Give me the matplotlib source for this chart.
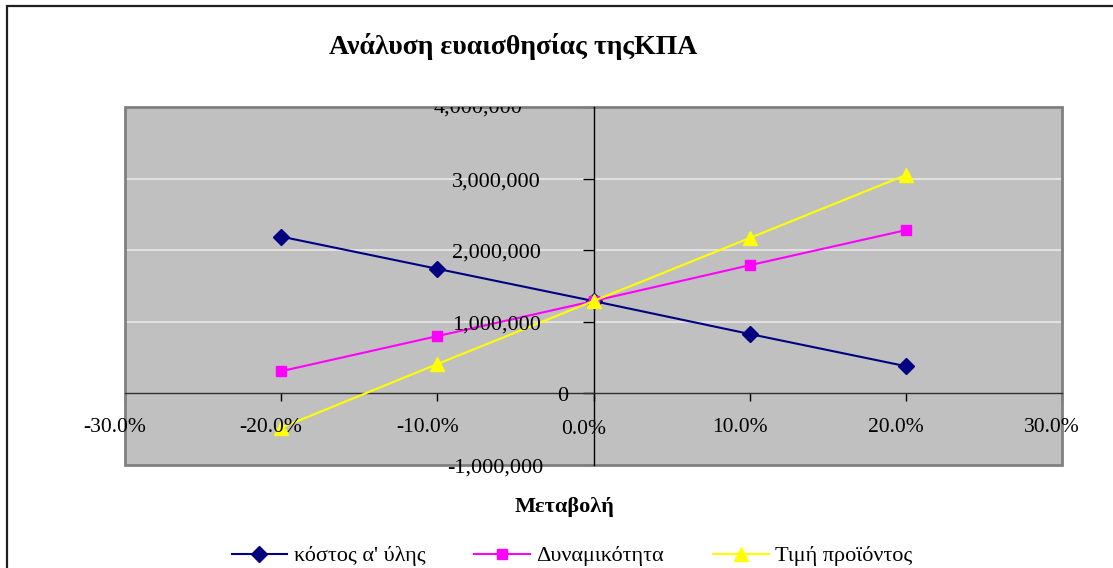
import matplotlib
matplotlib.use("Agg")
import matplotlib.pyplot as plt
from matplotlib.patches import Rectangle
from matplotlib.ticker import FixedLocator
from matplotlib.transforms import blended_transform_factory, offset_copy

changes = [-0.20, -0.10, 0.0, 0.10, 0.20]
cost_raw = [2190000, 1740000, 1290000, 830000, 380000]
capacity = [310000, 800000, 1290000, 1790000, 2280000]
price = [-480000, 410000, 1290000, 2170000, 3050000]
series_names = ["κόστος α' ύλης", "Δυναμικότητα", "Τιμή προϊόντος"]
x_ticks = [-0.30, -0.20, -0.10, 0.0, 0.10, 0.20, 0.30]
y_ticks = [-1000000, 0, 1000000, 2000000, 3000000, 4000000]

plt.rcParams['font.family'] = ['Liberation Serif', 'DejaVu Serif']

W, H = 1113, 568
fig = plt.figure(figsize=(W / 100, H / 100), dpi=100)
fig.patch.set_facecolor('white')

# outer chart border (top and left visible)
fig.patches.append(Rectangle((7 / W, -0.1), 1.2, (H - 6) / H + 0.1, transform=fig.transFigure,
                             fill=False, edgecolor='#202020', lw=1.6, zorder=0))

L, R, T, B = 125, 1062, 107, 465
ax = fig.add_axes([L / W, (H - B) / H, (R - L) / W, (B - T) / H])
ax.set_facecolor('#C0C0C0')
ax.set_xlim(-0.30, 0.30)
ax.set_ylim(-1000000, 4000000)

for y in [1000000, 2000000, 3000000]:
    ax.axhline(y, color='#E8E8E8', lw=1.2, zorder=1)

ax.plot(changes, cost_raw, color='#000080', marker='D', markersize=8, lw=1.5, label=series_names[0], zorder=3)
ax.plot(changes, capacity, color='#FF00FF', marker='s', markersize=7.5, lw=1.5, label=series_names[1], zorder=3)
ax.plot(changes, price, color='#FFFF00', marker='^', markersize=10, lw=1.5, label=series_names[2], zorder=3)

ax.spines['top'].set_visible(False)
ax.spines['right'].set_visible(False)
ax.spines['left'].set_position(('data', 0))
ax.spines['bottom'].set_position(('data', 0))
ax.spines['left'].set_color('black')
ax.spines['bottom'].set_color('#303030')
ax.spines['left'].set_linewidth(1.0)
ax.spines['bottom'].set_linewidth(1.0)
ax.add_patch(Rectangle((0, 0), 1, 1, transform=ax.transAxes, fill=False,
                       edgecolor='#808080', lw=2, zorder=2, clip_on=False))

ax.xaxis.set_major_locator(FixedLocator(x_ticks))
ax.yaxis.set_major_locator(FixedLocator(y_ticks))
ax.tick_params(axis='y', direction='out', length=8, width=1, labelleft=False)
ax.tick_params(axis='x', direction='out', length=6, width=1, labelbottom=False)

# y tick labels (Excel-like placement)
y_label_right_px = {-1000000: 543, 0: 568, 1000000: 541, 2000000: 541, 3000000: 541, 4000000: 522}
for v in y_ticks:
    dy = -1 if v == y_ticks[-1] else -3
    tr = blended_transform_factory(fig.transFigure,
                                   offset_copy(ax.transData, fig=fig, x=0, y=dy, units='dots'))
    ax.text(y_label_right_px[v] / W, v, f"{v:,.0f}", transform=tr, ha='right', va='center',
            fontsize=16, clip_on=(v == y_ticks[-1]), zorder=4)

# x tick labels
xtr = blended_transform_factory(offset_copy(ax.transData, fig=fig, x=-10, y=0, units='dots'),
                                fig.transFigure)
for v in x_ticks:
    ypx = 430 if v == 0 else 427
    ax.text(v, 1 - ypx / H, f"{v * 100:.1f}%", transform=xtr, ha='center', va='center',
            fontsize=15.5, clip_on=False, zorder=4)

fig.text(513 / W, 1 - 47 / H, "Ανάλυση ευαισθησίας τηςΚΠΑ", ha='center', va='center',
         fontsize=20, fontweight='bold')
fig.text(565 / W, 1 - 507 / H, "Μεταβολή", ha='center', va='center',
         fontsize=16, fontweight='bold')

fig.legend(loc='center', bbox_to_anchor=(572 / W, 1 - 556 / H), ncol=3, frameon=False,
           fontsize=16, handlelength=2.5, handletextpad=0.3, columnspacing=2.2,
           borderaxespad=0)

fig.savefig("out.png", dpi=100)
